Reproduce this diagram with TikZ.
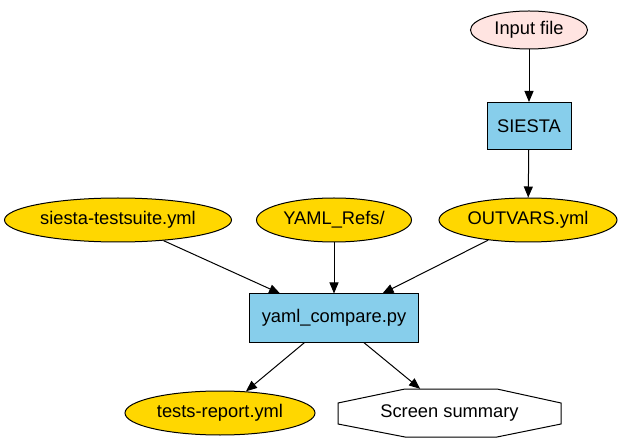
\documentclass[tikz,border=0pt]{standalone}
\usepackage{fontspec}
\setmainfont{Liberation Sans}
\usetikzlibrary{shapes.geometric,arrows.meta,calc}
\definecolor{gvgold}{HTML}{FFD700}
\definecolor{gvsky}{HTML}{87CEEB}
\definecolor{gvrose}{HTML}{FFE4E1}
\tikzset{
  every node/.style={font=\fontsize{18.3}{21}\selectfont, inner sep=0pt},
  ell/.style={ellipse, draw=black, line width=1pt, fill=gvgold},
  boxnode/.style={rectangle, draw=black, line width=1pt, fill=gvsky},
  conn/.style={line width=1pt, -{Triangle[length=11pt,width=9pt]}},
}
\begin{document}
\begin{tikzpicture}[x=1pt,y=-1pt]
\useasboundingbox (0,0) rectangle (626,443);
\node[ell, fill=gvrose, minimum width=117pt, minimum height=38pt] (input) at (529,30) {Input file};
\node[boxnode, minimum width=84pt, minimum height=47pt] (siesta) at (529,126) {SIESTA};
\node[ell, minimum width=227pt, minimum height=44pt] (suite) at (118,220) {siesta-testsuite.yml};
\node[ell, minimum width=155pt, minimum height=44pt] (refs) at (334,220) {YAML\_Refs/};
\node[ell, minimum width=178pt, minimum height=44pt] (outvars) at (528,220) {OUTVARS.yml};
\node[boxnode, minimum width=169pt, minimum height=48pt] (cmp) at (334,318) {yaml\_compare.py};
\node[ell, minimum width=190pt, minimum height=44pt] (report) at (220,413) {tests-report.yml};
\node[minimum width=223pt, minimum height=48pt] (screen) at (449.5,413) {};
\draw[line width=1pt, fill=white]
  ($(screen.center)+(-44.5,-24)$) -- ($(screen.center)+(47.5,-24)$) --
  ($(screen.center)+(111.5,-10)$) -- ($(screen.center)+(111.5,11)$) --
  ($(screen.center)+(47.5,24)$) -- ($(screen.center)+(-44.5,24)$) --
  ($(screen.center)+(-111.5,11)$) -- ($(screen.center)+(-111.5,-10)$) -- cycle;
\node at (screen.center) {Screen summary};
\draw[conn] (input) -- (siesta);
\draw[conn] (siesta) -- (outvars);
\draw[conn] (suite) -- (cmp);
\draw[conn] (refs) -- (cmp);
\draw[conn] (outvars) -- (cmp);
\draw[conn] (cmp) -- (report);
\draw[conn] (cmp) -- (screen);
\end{tikzpicture}
\end{document}
